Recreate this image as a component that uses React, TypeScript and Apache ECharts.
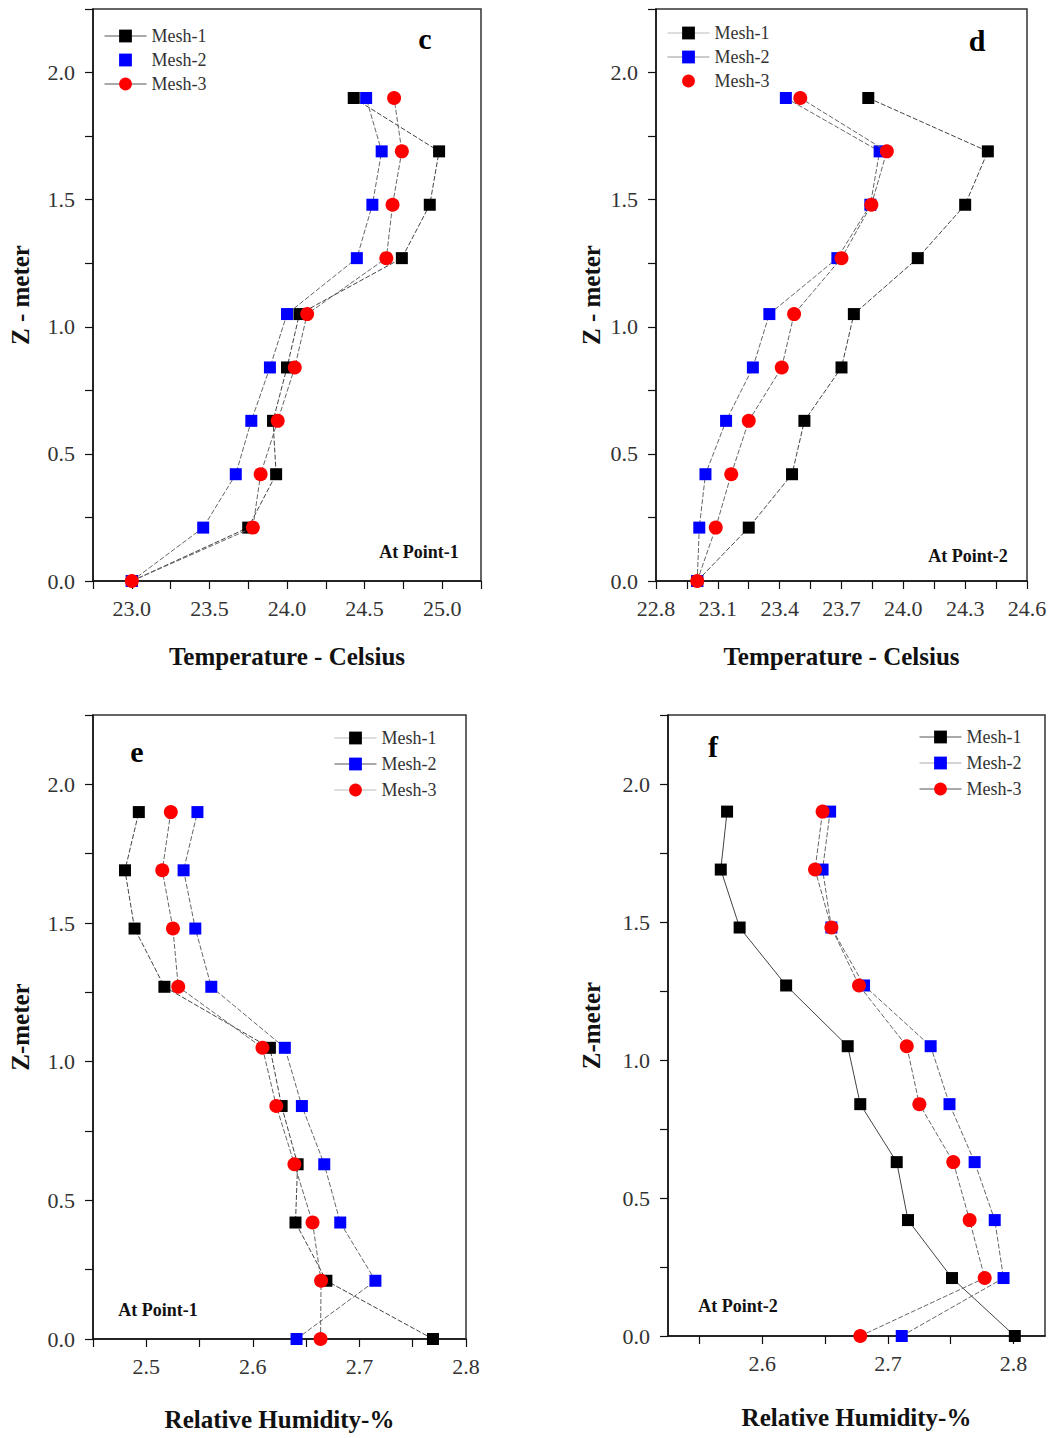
import React, { useEffect, useRef } from "react";
import * as echarts from "echarts";

// ---------- data ----------
const zLevels = [0, 0.21, 0.42, 0.63, 0.84, 1.05, 1.27, 1.48, 1.69, 1.9];

const cMesh1 = [23.0, 23.75, 23.93, 23.91, 24.0, 24.08, 24.74, 24.92, 24.98, 24.43];
const cMesh2 = [23.0, 23.46, 23.67, 23.77, 23.89, 24.0, 24.45, 24.55, 24.61, 24.51];
const cMesh3 = [23.0, 23.78, 23.83, 23.94, 24.05, 24.13, 24.64, 24.68, 24.74, 24.69];

const dMesh1 = [23.0, 23.25, 23.46, 23.52, 23.7, 23.76, 24.07, 24.3, 24.41, 23.83];
const dMesh2 = [23.0, 23.01, 23.04, 23.14, 23.27, 23.35, 23.68, 23.84, 23.885, 23.43];
const dMesh3 = [23.0, 23.09, 23.165, 23.25, 23.41, 23.47, 23.7, 23.845, 23.92, 23.5];

const eMesh1 = [2.769, 2.669, 2.64, 2.642, 2.627, 2.616, 2.517, 2.489, 2.48, 2.493];
const eMesh2 = [2.641, 2.715, 2.682, 2.667, 2.646, 2.63, 2.561, 2.546, 2.535, 2.548];
const eMesh3 = [2.6635, 2.664, 2.656, 2.639, 2.622, 2.609, 2.53, 2.525, 2.515, 2.523];

const fMesh1 = [2.801, 2.751, 2.716, 2.707, 2.678, 2.668, 2.619, 2.582, 2.567, 2.572];
const fMesh2 = [2.711, 2.792, 2.785, 2.769, 2.749, 2.734, 2.681, 2.655, 2.648, 2.654];
const fMesh3 = [2.678, 2.777, 2.765, 2.752, 2.725, 2.715, 2.677, 2.655, 2.642, 2.648];

// tick values / labels
const yTicks = [0, 0.25, 0.5, 0.75, 1.0, 1.25, 1.5, 1.75, 2.0, 2.25];
const yLabels = [0, 0.5, 1.0, 1.5, 2.0];

const cXTicks = [22.75, 23.0, 23.25, 23.5, 23.75, 24.0, 24.25, 24.5, 24.75, 25.0, 25.25];
const cXLabels = [23.0, 23.5, 24.0, 24.5, 25.0];
const dXTicks = [22.8, 22.95, 23.1, 23.25, 23.4, 23.55, 23.7, 23.85, 24.0, 24.15, 24.3, 24.45, 24.6];
const dXLabels = [22.8, 23.1, 23.4, 23.7, 24.0, 24.3, 24.6];
const eXTicks = [2.45, 2.5, 2.55, 2.6, 2.65, 2.7, 2.75, 2.8];
const eXLabels = [2.5, 2.6, 2.7, 2.8];
const fXTicks = [2.55, 2.6, 2.65, 2.7, 2.75, 2.8];
const fXLabels = [2.6, 2.7, 2.8];

const seriesNames = ["Mesh-1", "Mesh-2", "Mesh-3"];

const FONT = '"Liberation Serif", "Times New Roman", serif';

export default function App() {
  const ref = useRef<HTMLDivElement>(null);

  useEffect(() => {
    if (!ref.current) return;
    const chart = echarts.init(ref.current, null, { renderer: "svg" });

    const grids = [
      { left: 93, top: 9, width: 388, height: 572 },
      { left: 656, top: 9, width: 371, height: 572 },
      { left: 93, top: 715, width: 373, height: 624 },
      { left: 668, top: 715, width: 377, height: 621 },
    ];

    const panels = [
      { xMin: 22.75, xMax: 25.25, ticks: cXTicks, labels: cXLabels, xName: "Temperature - Celsius", yName: "Z - meter", xGap: 63, yGap: 60, data: [cMesh1, cMesh2, cMesh3] },
      { xMin: 22.8, xMax: 24.6, ticks: dXTicks, labels: dXLabels, xName: "Temperature - Celsius", yName: "Z - meter", xGap: 63, yGap: 52, data: [dMesh1, dMesh2, dMesh3] },
      { xMin: 2.45, xMax: 2.8, ticks: eXTicks, labels: eXLabels, xName: "Relative Humidity-%", yName: "Z-meter", xGap: 68, yGap: 60, data: [eMesh1, eMesh2, eMesh3] },
      { xMin: 2.525, xMax: 2.825, ticks: fXTicks, labels: fXLabels, xName: "Relative Humidity-%", yName: "Z-meter", xGap: 69, yGap: 64, data: [fMesh1, fMesh2, fMesh3] },
    ];

    const axisLineStyle = { color: "#111", width: 1.5 };
    const tickLabel = { fontFamily: FONT, fontSize: 22, color: "#333" };
    const nameStyle = { fontFamily: FONT, fontSize: 25, fontWeight: "bold" as const, color: "#111" };

    const xAxes = panels.map((p, i) => ({
      type: "value",
      gridIndex: i,
      min: p.xMin,
      max: p.xMax,
      name: p.xName,
      nameLocation: "middle",
      nameGap: p.xGap,
      nameTextStyle: nameStyle,
      axisLine: { show: true, onZero: false, lineStyle: axisLineStyle },
      axisTick: { show: true, inside: false, length: 8, customValues: p.ticks, lineStyle: { color: "#111", width: 1.2 } },
      axisLabel: { show: true, margin: 16, customValues: p.labels, formatter: (v: number) => v.toFixed(1), ...tickLabel },
      splitLine: { show: false },
    }));

    const yAxes = panels.map((p, i) => ({
      type: "value",
      gridIndex: i,
      min: 0,
      max: 2.25,
      name: p.yName,
      nameLocation: "middle",
      nameGap: p.yGap,
      nameTextStyle: nameStyle,
      axisLine: { show: true, onZero: false, lineStyle: axisLineStyle },
      axisTick: { show: true, inside: false, length: 8, customValues: yTicks, lineStyle: { color: "#111", width: 1.2 } },
      axisLabel: { show: true, margin: 18, customValues: yLabels, formatter: (v: number) => v.toFixed(1), ...tickLabel },
      splitLine: { show: false },
    }));

    const colors = ["#000000", "#0000ff", "#ff0000"];
    const symbols = ["rect", "rect", "circle"];
    const sizes = [12, 12, 14];

    const series: any[] = [];
    panels.forEach((p, i) => {
      p.data.forEach((vals, k) => {
        series.push({
          type: "line",
          name: seriesNames[k],
          xAxisIndex: i,
          yAxisIndex: i,
          data: vals.map((x, j) => [x, zLevels[j]]),
          symbol: symbols[k],
          symbolSize: sizes[k],
          showSymbol: true,
          itemStyle: { color: colors[k], borderWidth: 0 },
          lineStyle: {
            color: k === 0 ? "#444" : "#666",
            width: 1,
            type: i === 3 && k === 0 ? "solid" : [5, 2],
          },
          emphasis: { disabled: true },
          z: 2 + k,
        });
      });
    });

    const legendText = { fontFamily: FONT, fontSize: 18, color: "#333" };
    const legendBase = {
      orient: "vertical",
      itemWidth: 42,
      itemHeight: 16,
      padding: 0,
      textStyle: legendText,
      lineStyle: { color: "#555", width: 1, type: "solid" },
      selectedMode: false,
    };
    const legends = [
      { ...legendBase, left: 104, top: 27, itemGap: 6, data: [{ name: "Mesh-1" }, { name: "Mesh-2", lineStyle: { opacity: 0 } }, { name: "Mesh-3" }] },
      { ...legendBase, left: 667, top: 24, itemGap: 6, data: [{ name: "Mesh-1", lineStyle: { color: "#bbb" } }, { name: "Mesh-2", lineStyle: { color: "#999" } }, { name: "Mesh-3", lineStyle: { opacity: 0 } }] },
      { ...legendBase, left: 334, top: 729, itemGap: 8, data: [{ name: "Mesh-1", lineStyle: { color: "#bbb" } }, { name: "Mesh-2" }, { name: "Mesh-3", lineStyle: { color: "#bbb" } }] },
      { ...legendBase, left: 919, top: 728, itemGap: 8, data: [{ name: "Mesh-1" }, { name: "Mesh-2", lineStyle: { color: "#aaa" } }, { name: "Mesh-3" }] },
    ];

    const letter = (t: string, x: number, y: number) => ({
      type: "text",
      x,
      y,
      style: { text: t, fontFamily: FONT, fontSize: 30, fontWeight: "bold", fill: "#000", align: "center", verticalAlign: "middle" },
      z: 10,
    });
    const point = (t: string, x: number, y: number) => ({
      type: "text",
      x,
      y,
      style: { text: t, fontFamily: FONT, fontSize: 18, fontWeight: "bold", fill: "#111", align: "center", verticalAlign: "middle" },
      z: 10,
    });

    chart.setOption({
      animation: false,
      backgroundColor: "#ffffff",
      grid: grids.map((g) => ({ ...g, show: true, borderColor: "#333", borderWidth: 1.5, backgroundColor: "transparent", containLabel: false })),
      xAxis: xAxes,
      yAxis: yAxes,
      legend: legends,
      series,
      graphic: [
        letter("c", 425, 38),
        letter("d", 977, 40),
        letter("e", 137, 751),
        letter("f", 713, 746),
        point("At Point-1", 419, 552),
        point("At Point-2", 968, 556),
        point("At Point-1", 158, 1310),
        point("At Point-2", 738, 1306),
      ],
    });

    return () => chart.dispose();
  }, []);

  return (
    <div
      ref={ref}
      style={{ position: "absolute", left: 0, top: 0, width: 1051, height: 1438, background: "#fff" }}
    />
  );
}
